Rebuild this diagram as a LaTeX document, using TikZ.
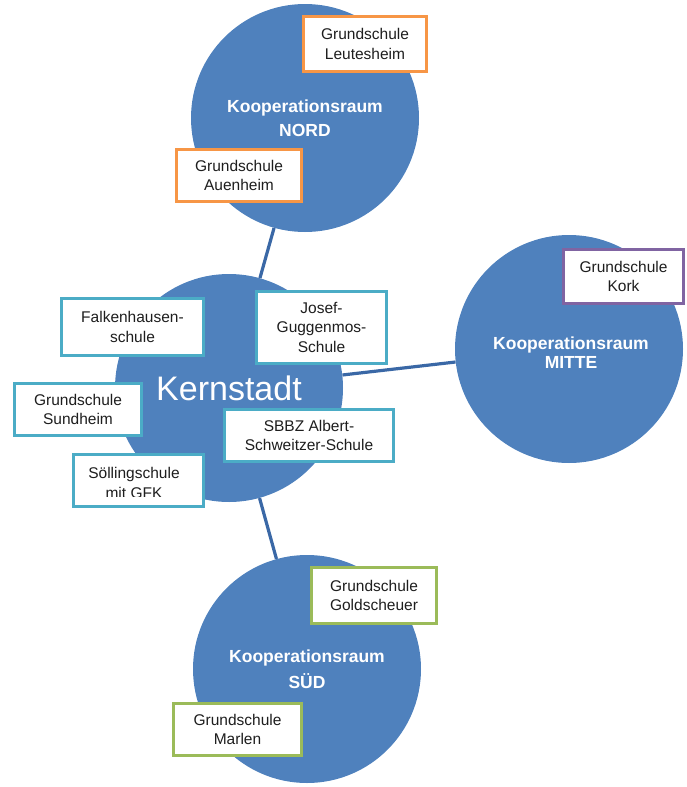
\documentclass[tikz,border=0pt]{standalone}
\usepackage{fontspec}
\setmainfont{Liberation Sans}
\definecolor{circblue}{HTML}{4F81BD}
\definecolor{linkblue}{HTML}{3A68A6}
\definecolor{boxorange}{HTML}{F79646}
\definecolor{boxteal}{HTML}{4BACC6}
\definecolor{boxpurple}{HTML}{8064A2}
\definecolor{boxgreen}{HTML}{9BBB59}
\definecolor{boxtext}{HTML}{1E1E1E}
\tikzset{
  region/.style={circle, fill=circblue, inner sep=0pt, minimum size=228pt, text=white, align=center},
  regionlbl/.style={region, font=\bfseries\fontsize{17.5}{#1}\selectfont},
  lbltext/.style={inner sep=0pt, text=white, align=center, font=\bfseries\fontsize{17.5}{#1}\selectfont},
  link/.style={draw=linkblue, line width=3.2pt},
  school/.style={rectangle, draw=#1, line width=3pt, fill=white, inner sep=0pt, align=center,
    text=boxtext, font=\fontsize{15.5}{19.5}\selectfont},
  txt/.style={inner sep=0pt, align=center, text=boxtext, font=\fontsize{15.5}{19.5}\selectfont}
}
\begin{document}
\begin{tikzpicture}[x=1pt,y=-1pt]
\useasboundingbox (0,0) rectangle (687,787);
% regions
\node[regionlbl=24] (nord) at (305,118) {Kooperationsraum\\NORD};
\node[region, font=\fontsize{34}{40}\selectfont] (kern) at (229,388) {Kernstadt};
\node[region] (mitte) at (569,349) {};
\node[lbltext=19] (mittelbl) at (571,353) {Kooperationsraum\\MITTE};
\node[regionlbl=26] (sued) at (307,669) {Kooperationsraum\\SÜD};
% connectors
\draw[link] (nord) -- (kern);
\draw[link] (kern) -- (mitte);
\draw[link] (kern) -- (sued);
% NORD schools
\node[school=boxorange, minimum width=123pt, minimum height=55pt] (leut) at (365,44) {Grundschule\\Leutesheim};
\node[school=boxorange, minimum width=125pt, minimum height=52pt] (auen) at (239,175.5) {Grundschule\\Auenheim};
% MITTE school
\node[school=boxpurple, minimum width=120pt, minimum height=54pt] (kork) at (623.5,276.5) {Grundschule\\Kork};
% Kernstadt schools
\node[school=boxteal, minimum width=142pt, minimum height=57pt] (falk) at (132.5,327) {Falkenhausen-\\schule};
\node[school=boxteal, minimum width=130pt, minimum height=72pt] (josef) at (321.5,327) {Josef-\\Guggenmos-\\Schule};
\node[school=boxteal, minimum width=127pt, minimum height=52pt] (sund) at (78,409.5) {Grundschule\\Sundheim};
\node[school=boxteal, minimum width=169pt, minimum height=52pt] (sbbz) at (309,435.5) {SBBZ Albert-\\Schweitzer-Schule};
\node[school=boxteal, minimum width=130pt, minimum height=52pt] (soell) at (138.5,480.5) {};
\begin{scope}
  \clip (72,453) rectangle (205,496);
  \node[txt] (soelltxt) at (134,483) {Söllingschule\\mit GFK};
\end{scope}
% SÜD schools
\node[school=boxgreen, minimum width=125pt, minimum height=56pt] (gold) at (374,595.5) {Grundschule\\Goldscheuer};
\node[school=boxgreen, minimum width=128pt, minimum height=52pt] (marl) at (237.5,729.5) {Grundschule\\Marlen};
\end{tikzpicture}
\end{document}
